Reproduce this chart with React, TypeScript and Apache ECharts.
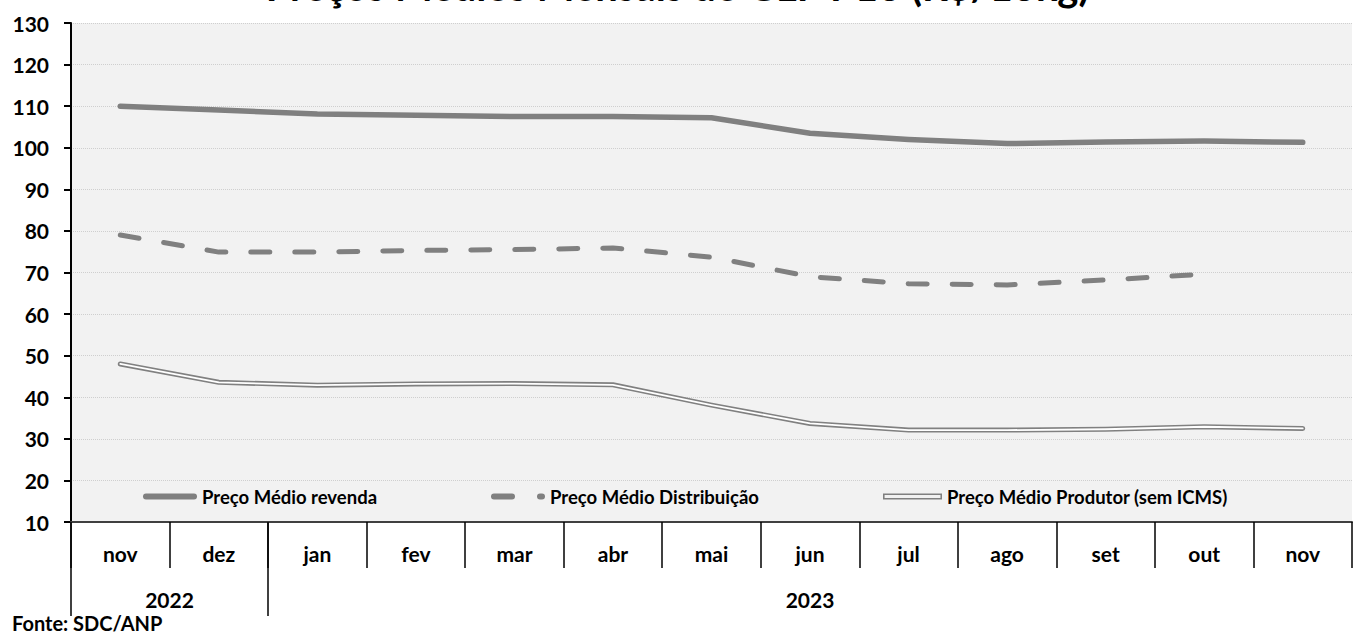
import React, { useEffect, useRef } from "react";
import * as echarts from "echarts";

const months = ["nov", "dez", "jan", "fev", "mar", "abr", "mai", "jun", "jul", "ago", "set", "out", "nov"];
const yearSlots = ["", "", "2022", "", "", "", "", "", "", "", "", "", "", "", "", "2023", "", "", "", "", "", "", "", "", "", "", ""];
const yearTickSlots = [0, 4];
const revenda = [110.0, 109.1, 108.1, 107.8, 107.5, 107.5, 107.2, 103.5, 102.0, 101.0, 101.4, 101.6, 101.3];
const distribuicao = [79.0, 74.9, 74.9, 75.3, 75.5, 75.9, 73.7, 69.0, 67.3, 67.0, 68.2, 69.6, null];
const produtor = [48.0, 43.6, 42.9, 43.2, 43.3, 43.0, 38.1, 33.7, 32.1, 32.1, 32.3, 32.9, 32.5];

const FONT = "Lato, 'Noto Sans', sans-serif";
const GRAY = "#808080";

const ICON_SOLID = "path://M3,0H51A3,3 0 0 1 51,6H3A3,3 0 0 1 3,0Z";
const ICON_DASH = "path://M3,0H21A3,3 0 0 1 21,6H3A3,3 0 0 1 3,0Z M49,0H51A3,3 0 0 1 51,6H49A3,3 0 0 1 49,0Z";
const ICON_DOUBLE = "path://M0,0H60V6H0Z M1.6,1.6V4.4H58.4V1.6Z";

export default function App() {
  const ref = useRef<HTMLDivElement>(null);
  useEffect(() => {
    if (!ref.current) return;
    const chart = echarts.init(ref.current, null, { renderer: "svg" });
    const labelStyle = { fontFamily: FONT, fontWeight: "bold", fontSize: 21, color: "#000" };
    const legendText = { fontFamily: FONT, fontWeight: "bold", fontSize: 18.5, color: "#000" };
    chart.setOption({
      animation: false,
      backgroundColor: "#ffffff",
      title: {
        text: "Preços Médios Mensais de GLP P13 (R$/13kg)",
        left: "center",
        top: -34,
        padding: 0,
        textStyle: { fontFamily: FONT, fontWeight: "bold", fontSize: 40, color: "#000" },
      },
      graphic: [
        {
          type: "text",
          left: 12,
          top: 613,
          style: { text: "Fonte: SDC/ANP", font: `bold 20px ${FONT}`, fill: "#000" },
        },
      ],
      legend: [
        {
          data: [{ name: "Preço Médio revenda", icon: ICON_SOLID, itemStyle: { color: GRAY, borderWidth: 0 } }],
          left: 143,
          top: 487,
          padding: 0,
          itemWidth: 54,
          itemHeight: 6,
          textStyle: legendText,
        },
        {
          data: [{ name: "Preço Médio Distribuição", icon: ICON_DASH, itemStyle: { color: GRAY, borderWidth: 0 } }],
          left: 491,
          top: 487,
          padding: 0,
          itemWidth: 54,
          itemHeight: 6,
          textStyle: legendText,
        },
        {
          data: [{ name: "Preço Médio Produtor (sem ICMS)", icon: ICON_DOUBLE, itemStyle: { color: GRAY, borderWidth: 0 } }],
          left: 883,
          top: 487,
          padding: 0,
          itemWidth: 59,
          itemHeight: 6,
          textStyle: legendText,
        },
      ],
      grid: {
        left: 71,
        top: 23,
        width: 1295,
        height: 499,
        show: true,
        backgroundColor: "#f2f2f2",
        borderWidth: 0,
      },
      xAxis: [
        {
          type: "category",
          data: months,
          boundaryGap: true,
          axisLine: { show: true, lineStyle: { color: "#404040", width: 2 } },
          axisTick: { show: true, interval: 0, length: 46, lineStyle: { color: "#000", width: 1.5 } },
          axisLabel: { ...labelStyle, interval: 0, margin: 21 },
          splitLine: { show: false },
          z: 3,
        },
        {
          type: "category",
          data: yearSlots,
          boundaryGap: false,
          position: "bottom",
          axisLine: { show: false },
          axisTick: {
            show: true,
            interval: (i: number) => yearTickSlots.indexOf(i) >= 0,
            length: 94,
            lineStyle: { color: "#000", width: 1.5 },
          },
          axisLabel: { ...labelStyle, interval: 0, margin: 67 },
          splitLine: { show: false },
        },
      ],
      yAxis: {
        type: "value",
        min: 10,
        max: 130,
        interval: 10,
        axisLine: { show: true, lineStyle: { color: "#000", width: 2 } },
        axisTick: { show: true, length: 7, lineStyle: { color: "#000", width: 2 } },
        axisLabel: { ...labelStyle, margin: 22 },
        splitLine: { show: true, lineStyle: { type: "dotted", color: "#cfcfcf", width: 1 } },
      },
      series: [
        {
          name: "Preço Médio Produtor (sem ICMS)",
          type: "line",
          data: produtor,
          showSymbol: false,
          symbol: "none",
          color: GRAY,
          lineStyle: { color: GRAY, width: 5, cap: "round", join: "round" },
          z: 2,
        },
        {
          name: "produtor-inner",
          type: "line",
          data: produtor,
          showSymbol: false,
          symbol: "none",
          color: "#ffffff",
          lineStyle: { color: "#ffffff", width: 1.8, cap: "round", join: "round" },
          z: 3,
        },
        {
          name: "Preço Médio Distribuição",
          type: "line",
          data: distribuicao,
          showSymbol: false,
          symbol: "none",
          color: GRAY,
          lineStyle: { color: GRAY, width: 5, type: [19, 25], cap: "round", join: "round" },
          z: 4,
        },
        {
          name: "Preço Médio revenda",
          type: "line",
          data: revenda,
          showSymbol: false,
          symbol: "none",
          color: GRAY,
          lineStyle: { color: GRAY, width: 5.5, cap: "round", join: "round" },
          z: 5,
        },
      ],
    });
    return () => chart.dispose();
  }, []);
  return (
    <div
      ref={ref}
      style={{ position: "absolute", left: 0, top: 0, width: 1355, height: 635 }}
    />
  );
}
